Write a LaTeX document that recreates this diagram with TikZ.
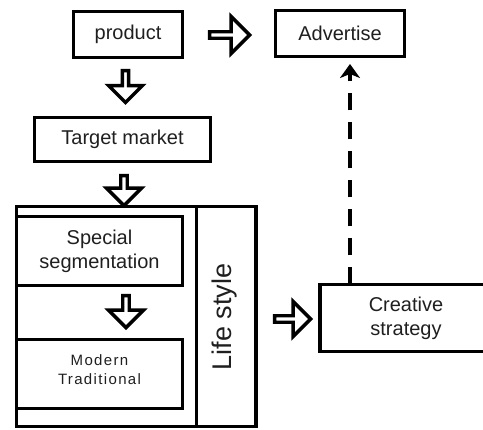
\documentclass[tikz,border=0pt]{standalone}
\usepackage{fontspec}
\setmainfont{Liberation Sans}
\usetikzlibrary{shapes.arrows,arrows.meta}
\begin{document}
\begin{tikzpicture}[x=1pt,y=-1pt,
  box/.style={draw=black,line width=3.2pt,rectangle,inner sep=0pt,outer sep=0pt,
    align=center,font=\fontsize{20}{24}\selectfont,text=black!88},
  blockarrow/.style={draw=black,line width=3.4pt,single arrow,inner sep=0pt,outer sep=0pt,
    single arrow head indent=0pt},
  dashline/.style={line width=4pt,dash pattern=on 17pt off 12pt,-{Stealth[length=14pt,width=20pt,inset=4pt]}}
]
\useasboundingbox (0,0) rectangle (483,430);
\clip (0,0) rectangle (483,430);
% boxes
\node[box,minimum width=109,minimum height=46] (product) at (128,34.5) {product};
\node[box,minimum width=129,minimum height=46] (advertise) at (340,33.5) {Advertise};
\node[box,minimum width=176,minimum height=44] (target) at (122.5,139.5) {Target market};
\node[box,minimum width=239,minimum height=220] (outer) at (136,316.5) {};
\node[box,minimum width=60,minimum height=220] (lifecol) at (226.5,316.5) {};
\node[rotate=90,font=\fontsize{27}{30}\selectfont,text=black!88] (life) at (225,317) {Life style};
\node[box,minimum width=166,minimum height=69] (special) at (99.5,251) {Special\\segmentation};
\node[box,minimum width=166,minimum height=69] (modern) at (99.5,374) {};
\node[align=center,font=\fontsize{15}{19}\selectfont\addfontfeature{LetterSpace=9},text=black!88] (moderntext) at (99.5,370) {Modern\\Traditional};
\node[box,minimum width=172,minimum height=67] (creative) at (406,318) {Creative\\strategy};
% block arrows
\node[blockarrow,minimum height=40,minimum width=37,single arrow head extend=8pt] (a1) at (228,35) {};
\node[blockarrow,rotate=-90,minimum height=32,minimum width=34,single arrow head extend=7.5pt] (a2) at (125.5,85) {};
\node[blockarrow,rotate=-90,minimum height=30,minimum width=35,single arrow head extend=7.5pt] (a3) at (124,189) {};
\node[blockarrow,rotate=-90,minimum height=32,minimum width=35,single arrow head extend=7.5pt] (a4) at (126,310) {};
\node[blockarrow,minimum height=36,minimum width=35,single arrow head extend=7.5pt] (a5) at (291,319) {};
% dashed connector
\coordinate (dtop) at (350,64);
\draw[dashline] (creative.north -| dtop) -- (dtop);
\end{tikzpicture}
\end{document}
